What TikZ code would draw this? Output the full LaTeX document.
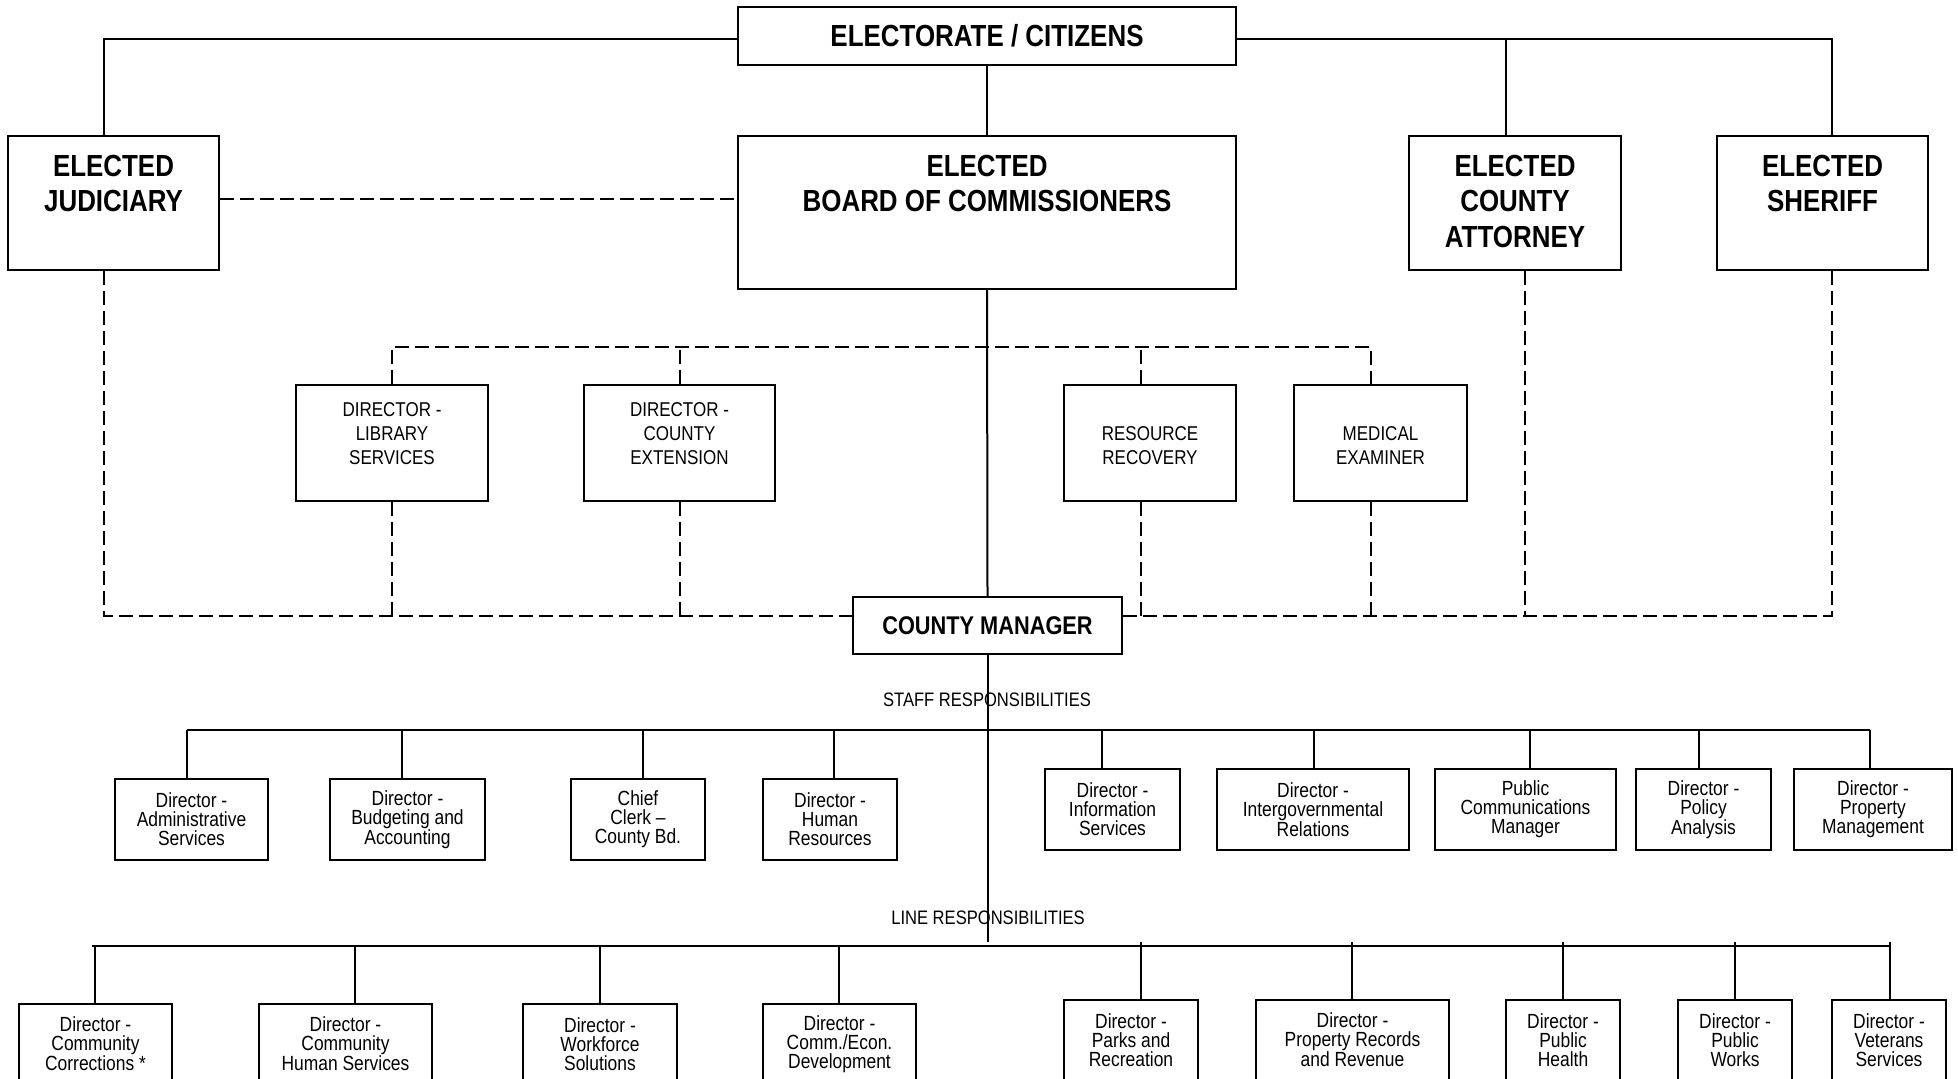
\documentclass[tikz,border=0pt]{standalone}
\usepackage{fontspec}
\setmainfont{Liberation Sans}[FakeStretch=0.85]
\begin{document}
\begin{tikzpicture}[x=1pt,y=-1pt,
  frame/.style={draw, line width=2.4pt, inner sep=0pt},
  ln/.style={line width=2pt},
  dsh/.style={line width=2pt, dash pattern=on 14pt off 6pt},
  bigf/.style={font=\fontsize{30.5}{35.5}\selectfont\bfseries, align=center, inner sep=0pt},
  midf/.style={font=\fontsize{20}{24}\selectfont, align=center, inner sep=0pt},
  sbox/.style={frame, minimum height=81, font=\fontsize{20.5}{19}\selectfont, align=center},
  lbox/.style={frame, minimum height=80, font=\fontsize{20.5}{19}\selectfont, align=center},
  captxt/.style={font=\fontsize{19.5}{22}\selectfont, inner sep=0pt}
]
\fill[white] (0,0) rectangle (1958,1078);
\useasboundingbox (0,0) rectangle (1958,1078);

% top level
\node[frame, minimum width=498, minimum height=58, font=\fontsize{30.5}{35}\selectfont\bfseries] (elec) at (987,36) {ELECTORATE / CITIZENS};
\node[frame, minimum width=211, minimum height=134] (jud) at (113.5,203) {};
\node[frame, minimum width=498, minimum height=153] (board) at (987,212.5) {};
\node[frame, minimum width=212, minimum height=134] (att) at (1515,203) {};
\node[frame, minimum width=211, minimum height=134] (sher) at (1822.5,203) {};
\node[bigf, anchor=north] (jud-t) at (jud.north |- 0,155) {ELECTED\\JUDICIARY};
\node[bigf, anchor=north] (board-t) at (board.north |- 0,155) {ELECTED\\BOARD OF COMMISSIONERS};
\node[bigf, anchor=north] (att-t) at (att.north |- 0,155) {ELECTED\\COUNTY\\ATTORNEY};
\node[bigf, anchor=north] (sher-t) at (sher.north |- 0,155) {ELECTED\\SHERIFF};

% middle boxes
\node[frame, minimum width=192, minimum height=116] (lib) at (392,443) {};
\node[frame, minimum width=191, minimum height=116] (ext) at (679.5,443) {};
\node[frame, minimum width=172, minimum height=116] (res) at (1150,443) {};
\node[frame, minimum width=173, minimum height=116] (med) at (1380.5,443) {};
\node[midf, anchor=north] (lib-t) at (lib.north |- 0,402) {DIRECTOR -\\LIBRARY\\SERVICES};
\node[midf, anchor=north] (ext-t) at (ext.north |- 0,402) {DIRECTOR -\\COUNTY\\EXTENSION};
\node[midf, anchor=north] (res-t) at (res.north |- 0,426) {RESOURCE\\RECOVERY};
\node[midf, anchor=north] (med-t) at (med.north |- 0,426) {MEDICAL\\EXAMINER};

\node[frame, minimum width=269, minimum height=57, font=\fontsize{25.6}{30}\selectfont\bfseries] (cm) at (987.5,625.5) {COUNTY MANAGER};

% captions
\node[captxt] (staff) at (987,700) {STAFF RESPONSIBILITIES};
\node[captxt] (line) at (988,918) {LINE RESPONSIBILITIES};

% staff boxes
\node[sbox, minimum width=153] (adm) at (191.5,819.5) {Director -\\Administrative\\Services};
\node[sbox, minimum width=155] (bud) at (407.5,819.5) {Director -\\Budgeting and\\Accounting};
\node[sbox, minimum width=134] (clk) at (638,819.5) {Chief\\Clerk –\\County Bd.};
\node[sbox, minimum width=134] (hr) at (830,819.5) {Director -\\Human\\Resources};
\node[sbox, minimum width=135] (inf) at (1112.5,809.5) {Director -\\Information\\Services};
\node[sbox, minimum width=192] (igr) at (1313,809.5) {Director -\\Intergovernmental\\Relations};
\node[sbox, minimum width=181] (pcm) at (1525.5,809.5) {Public\\Communications\\Manager};
\node[sbox, minimum width=135] (pol) at (1703.5,809.5) {Director -\\Policy\\Analysis};
\node[sbox, minimum width=158] (pmg) at (1873,809.5) {Director -\\Property\\Management};

% line boxes
\node[lbox, minimum width=153] (cor) at (95.5,1044) {Director -\\Community\\Corrections *};
\node[lbox, minimum width=173] (chs) at (345.5,1044) {Director -\\Community\\Human Services};
\node[lbox, minimum width=154] (wfs) at (600,1044) {Director -\\Workforce\\Solutions};
\node[lbox, minimum width=153] (ced) at (839.5,1044) {Director -\\Comm./Econ.\\Development};
\node[lbox, minimum width=134] (par) at (1131,1040) {Director -\\Parks and\\Recreation};
\node[lbox, minimum width=193] (prr) at (1352.5,1040) {Director -\\Property Records\\and Revenue};
\node[lbox, minimum width=114] (phe) at (1563,1040) {Director -\\Public\\Health};
\node[lbox, minimum width=114] (pwk) at (1735,1040) {Director -\\Public\\Works};
\node[lbox, minimum width=114] (vet) at (1889,1040) {Director -\\Veterans\\Services};

% helper levels
\coordinate (tb) at (0,347);
\coordinate (bb) at (0,616);
\coordinate (sb) at (0,730);
\coordinate (lb) at (0,946);

% solid connectors from electorate
\draw[ln] ([yshift=-3pt]elec.west) -| ([xshift=-9.5pt]jud.north);
\draw[ln] ([yshift=-3pt]elec.east) -| ([xshift=9.5pt]sher.north);
\draw[ln] ([xshift=-9pt]att.north) -- ([xshift=-9pt]att.north |- 0,39);
\draw[ln] (elec.south) -- (board.north);
\draw[ln] (board.south) -- (cm.north);
\draw[ln] (cm.south) -- (cm.south |- 0,942);

% dashed connectors
\draw[dsh] ([yshift=4pt]jud.east) -- ([yshift=4pt]jud.east -| board.west);
\draw[dsh] (lib.north) -- (lib.north |- tb) -- ([xshift=-9.5pt]med.north |- tb) -- ([xshift=-9.5pt]med.north);
\draw[dsh] (ext.north) -- (ext.north |- tb);
\draw[dsh] ([xshift=-9pt]res.north) -- ([xshift=-9pt]res.north |- tb);
\draw[dsh] ([xshift=-9.5pt]jud.south) -- ([xshift=-9.5pt]jud.south |- bb) -- (cm.west |- bb);
\draw[dsh] (lib.south) -- (lib.south |- bb);
\draw[dsh] (ext.south) -- (ext.south |- bb);
\draw[dsh] (cm.east |- bb) -- ([xshift=9.5pt]sher.south |- bb) -- ([xshift=9.5pt]sher.south);
\draw[dsh] ([xshift=-9pt]res.south) -- ([xshift=-9pt]res.south |- bb);
\draw[dsh] ([xshift=-9.5pt]med.south) -- ([xshift=-9.5pt]med.south |- bb);
\draw[dsh] ([xshift=10pt]att.south) -- ([xshift=10pt]att.south |- bb);

% staff bar
\draw[ln] ([xshift=-4.5pt]adm.north |- sb) -- ([xshift=-3pt]pmg.north |- sb);
\foreach \n/\d in {adm/-4.5, bud/-5.5, clk/5, hr/4, inf/-10.5, igr/1, pcm/4.5, pol/-4.5, pmg/-3}
  \draw[ln] ([xshift=\d pt]\n.north) -- ([xshift=\d pt]\n.north |- sb);

% line bar
\draw[ln] ([xshift=-3.5pt]cor.north |- lb) -- ([xshift=2pt]vet.north |- lb);
\foreach \n/\d in {cor/-0.5, chs/9.5, wfs/0, ced/-0.5}
  \draw[ln] ([xshift=\d pt]\n.north) -- ([xshift=\d pt]\n.north |- lb);
\foreach \n/\d in {par/10, prr/-0.5, phe/0, pwk/0, vet/1}
  \draw[ln] ([xshift=\d pt]\n.north) -- ([xshift=\d pt]\n.north |- 0,942);
\end{tikzpicture}
\end{document}
